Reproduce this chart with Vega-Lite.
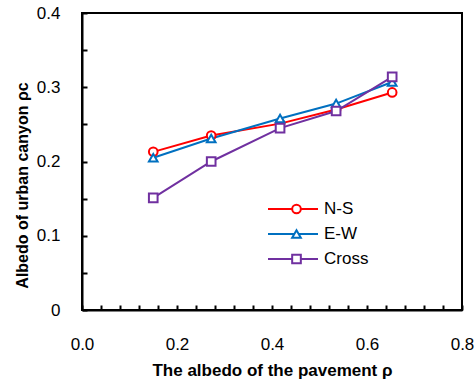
{
  "$schema": "https://vega.github.io/schema/vega-lite/v6.json",
  "autosize": "none",
  "width": 380,
  "height": 297,
  "padding": {"left": 82, "top": 13, "right": 13, "bottom": 75},
  "background": "white",
  "config": {
    "font": "Liberation Sans",
    "view": {"stroke": "black", "strokeWidth": 2},
    "axis": {"grid": false, "domainColor": "black", "domainWidth": 2, "tickColor": "black", "tickWidth": 2, "labelColor": "black", "titleColor": "black", "labelFont": "Liberation Sans", "titleFont": "Liberation Sans"}
  },
  "data": {"values": [
    {"rho": 0.15, "albedo": 0.213, "series": "N-S"},
    {"rho": 0.272, "albedo": 0.235, "series": "N-S"},
    {"rho": 0.417, "albedo": 0.251, "series": "N-S"},
    {"rho": 0.535, "albedo": 0.270, "series": "N-S"},
    {"rho": 0.653, "albedo": 0.293, "series": "N-S"},
    {"rho": 0.15, "albedo": 0.205, "series": "E-W"},
    {"rho": 0.272, "albedo": 0.231, "series": "E-W"},
    {"rho": 0.417, "albedo": 0.258, "series": "E-W"},
    {"rho": 0.535, "albedo": 0.278, "series": "E-W"},
    {"rho": 0.653, "albedo": 0.307, "series": "E-W"},
    {"rho": 0.15, "albedo": 0.151, "series": "Cross"},
    {"rho": 0.272, "albedo": 0.200, "series": "Cross"},
    {"rho": 0.417, "albedo": 0.245, "series": "Cross"},
    {"rho": 0.535, "albedo": 0.268, "series": "Cross"},
    {"rho": 0.653, "albedo": 0.314, "series": "Cross"}
  ]},
  "encoding": {
    "x": {"field": "rho", "type": "quantitative",
      "scale": {"domain": [0, 0.8], "nice": false},
      "axis": {"values": [0,0.04,0.08,0.12,0.16,0.2,0.24,0.28,0.32,0.36,0.4,0.44,0.48,0.52,0.56,0.6,0.64,0.68,0.72,0.76,0.8],
        "labelExpr": "abs(datum.value*5 - round(datum.value*5)) < 0.001 ? format(datum.value, '.1f') : ''",
        "tickSize": -5, "labelPadding": 31, "labelFontSize": 17, "labelFlush": false, "labelOverlap": false,
        "title": "The albedo of the pavement ρ", "titleFontSize": 17, "titleFontWeight": "bold", "titleY": 52, "titleBaseline": "top"}},
    "y": {"field": "albedo", "type": "quantitative",
      "scale": {"domain": [0, 0.4], "nice": false},
      "axis": {"values": [0,0.05,0.1,0.15,0.2,0.25,0.3,0.35,0.4],
        "labelExpr": "datum.value == 0 ? '0' : (abs(datum.value*10 - round(datum.value*10)) < 0.001 ? format(datum.value, '.1f') : '')",
        "tickSize": -5, "labelPadding": 27, "labelFontSize": 17, "labelFlush": false, "labelOverlap": false,
        "title": "Albedo of urban canyon ρc", "titleFontSize": 16, "titleFontWeight": "bold", "titleX": -60, "titleY": 172, "titleAngle": -90, "titleBaseline": "middle", "titleAlign": "center"}}
  },
  "layer": [
    {
      "mark": {"type": "line", "strokeWidth": 2},
      "encoding": {
        "color": {"field": "series", "type": "nominal",
          "scale": {"domain": ["N-S", "E-W", "Cross"], "range": ["#FF0000", "#0070C0", "#7030A0"]},
          "legend": {"orient": "none", "legendX": 185, "legendY": 185, "title": null, "symbolType": "stroke", "symbolSize": 2500, "symbolStrokeWidth": 2, "clipHeight": 22, "rowPadding": 3, "padding": 0, "labelFontSize": 17, "labelOffset": 5, "labelColor": "black", "zindex": 0}}
      }
    },
    {
      "mark": {"type": "point", "filled": false, "fill": "white", "fillOpacity": 1, "strokeWidth": 2, "size": 75, "opacity": 1},
      "encoding": {
        "color": {"field": "series", "type": "nominal",
          "legend": {"orient": "none", "legendX": 206, "legendY": 185, "title": null, "symbolSize": 75, "symbolStrokeWidth": 2, "symbolFillColor": "white", "clipHeight": 22, "rowPadding": 3, "padding": 0, "labelFontSize": 17, "labelExpr": "''", "zindex": 1}},
        "shape": {"field": "series", "type": "nominal",
          "scale": {"domain": ["N-S", "E-W", "Cross"], "range": ["circle", "triangle-up", "square"]},
          "legend": {"orient": "none", "legendX": 206, "legendY": 185, "title": null, "symbolSize": 75, "symbolStrokeWidth": 2, "symbolFillColor": "white", "clipHeight": 22, "rowPadding": 3, "padding": 0, "labelFontSize": 17, "labelExpr": "''", "zindex": 1}}
      }
    }
  ],
  "resolve": {"legend": {"color": "independent", "shape": "independent"}}
}
